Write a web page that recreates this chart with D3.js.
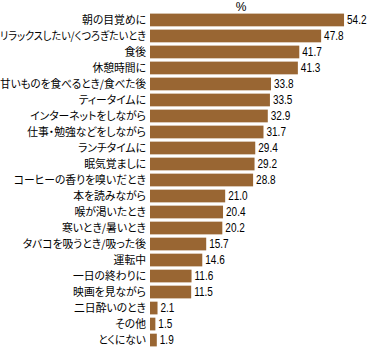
<!DOCTYPE html>
<html>
<head>
<meta charset="utf-8">
<script src="https://cdn.jsdelivr.net/npm/d3@7"></script>
<style>
  html, body { margin: 0; padding: 0; background: #fff; }
  svg { display: block; }
  .cat { font-family: "Noto Sans CJK JP", sans-serif; font-size: 10.8px; font-feature-settings: "palt"; fill: #000; }
  .val { font-family: "Liberation Sans", Arial, sans-serif; font-size: 12px; fill: #000; }
</style>
</head>
<body>
<svg id="chart" width="368" height="347"></svg>
<script>
// Occasions when people drink coffee (%)
const categories = [
  "朝の目覚めに",
  "リラックスしたい/くつろぎたいとき",
  "食後",
  "休憩時間に",
  "甘いものを食べるとき/食べた後",
  "ティータイムに",
  "インターネットをしながら",
  "仕事・勉強などをしながら",
  "ランチタイムに",
  "眠気覚ましに",
  "コーヒーの香りを嗅いだとき",
  "本を読みながら",
  "喉が渇いたとき",
  "寒いとき/暑いとき",
  "タバコを吸うとき/吸った後",
  "運転中",
  "一日の終わりに",
  "映画を見ながら",
  "二日酔いのとき",
  "その他",
  "とくにない"
];
const values = [54.2, 47.8, 41.7, 41.3, 33.8, 33.5, 32.9, 31.7, 29.4, 29.2, 28.8,
                21.0, 20.4, 20.2, 15.7, 14.6, 11.6, 11.5, 2.1, 1.5, 1.9];
const unitLabel = "%";

const data = categories.map((c, i) => ({ cat: c, v: values[i] }));

const svg = d3.select("#chart");

const x = d3.scaleLinear().domain([0, 60]).range([150, 150 + 60 * 3.58]);
const y = d3.scaleBand().domain(categories).range([12, 348]).paddingInner(0.205).paddingOuter(0.1);

// Narrow numerals: squeeze the value font horizontally to a condensed width
const probe = svg.append("text").attr("class", "val").text("21.0");
const numScale = Math.min(1, 19.5 / probe.node().getComputedTextLength());
probe.remove();

svg.append("g").selectAll("rect")
  .data(data)
  .join("rect")
  .attr("x", x(0))
  .attr("y", d => y(d.cat))
  .attr("width", d => x(d.v) - x(0))
  .attr("height", y.bandwidth())
  .attr("fill", "#996633");

const labelRight = x(0) - 4;
const maxLabelWidth = labelRight;

svg.append("g").selectAll("text")
  .data(data)
  .join("text")
  .attr("class", "cat")
  .attr("x", labelRight)
  .attr("y", d => y(d.cat) + y.bandwidth() / 2)
  .attr("dy", "0.36em")
  .attr("text-anchor", "end")
  .text(d => d.cat)
  .each(function () {
    const w = this.getComputedTextLength();
    if (w > maxLabelWidth) {
      d3.select(this)
        .attr("textLength", maxLabelWidth)
        .attr("lengthAdjust", "spacingAndGlyphs");
    }
  });

svg.append("g").selectAll("text")
  .data(data)
  .join("text")
  .attr("class", "val")
  .attr("transform", d => `translate(${x(d.v) + 3},${y(d.cat) + y.bandwidth() / 2}) scale(${numScale},1)`)
  .attr("dy", "0.36em")
  .text(d => d.v.toFixed(1));

svg.append("text")
  .attr("class", "val")
  .attr("x", 241)
  .attr("y", 10.5)
  .attr("text-anchor", "middle")
  .text(unitLabel);
</script>
</body>
</html>
